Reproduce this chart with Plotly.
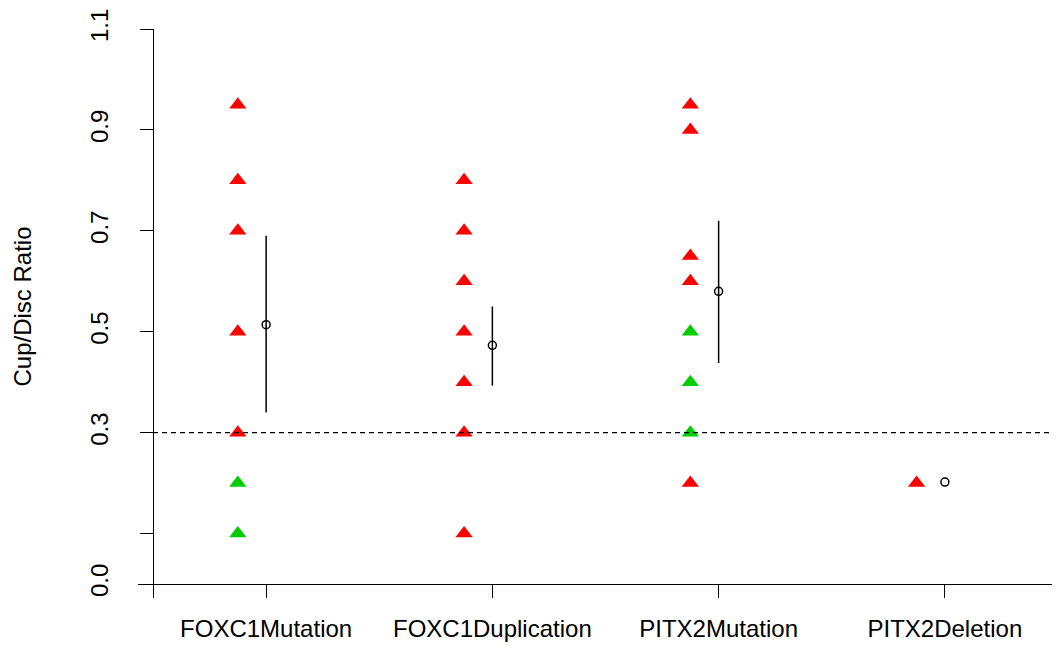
import plotly.graph_objects as go

categories = ["FOXC1Mutation", "FOXC1Duplication", "PITX2Mutation", "PITX2Deletion"]
cat_pos = [1, 2, 3, 4]

red_values = [
    [0.95, 0.8, 0.7, 0.5, 0.3],
    [0.8, 0.7, 0.6, 0.5, 0.4, 0.3, 0.1],
    [0.95, 0.9, 0.65, 0.6, 0.2],
    [0.2],
]
green_values = [
    [0.2, 0.1],
    [],
    [0.5, 0.4, 0.3],
    [],
]
means = [0.514, 0.473, 0.58, 0.202]
upper = [0.69, 0.55, 0.72, 0.202]
lower = [0.34, 0.393, 0.438, 0.202]

threshold = 0.3
y_ticks = [0.0, 0.1, 0.3, 0.5, 0.7, 0.9, 1.1]
y_ticktext = ["0.0", "", "0.3", "0.5", "0.7", "0.9", "1.1"]
offset = 0.125

FONT = "Liberation Sans, Arial, sans-serif"
FS = 24

fig = go.Figure()

rx, ry, gx, gy = [], [], [], []
for p, rv, gv in zip(cat_pos, red_values, green_values):
    rx += [p - offset] * len(rv)
    ry += rv
    gx += [p - offset] * len(gv)
    gy += gv

fig.add_trace(go.Scatter(x=rx, y=ry, mode="markers",
                         marker=dict(symbol="triangle-up", size=15, color="#FF0000",
                                     line=dict(width=0)), showlegend=False))
fig.add_trace(go.Scatter(x=gx, y=gy, mode="markers",
                         marker=dict(symbol="triangle-up", size=15, color="#00CD00",
                                     line=dict(width=0)), showlegend=False))

fig.add_trace(go.Scatter(
    x=cat_pos, y=means, mode="markers",
    marker=dict(symbol="circle-open", size=8, color="black", line=dict(width=1.5, color="black")),
    error_y=dict(type="data", symmetric=False,
                 array=[u - m for u, m in zip(upper, means)],
                 arrayminus=[m - l for m, l in zip(means, lower)],
                 width=0, thickness=1.5, color="black"),
    showlegend=False))

fig.add_shape(type="line", x0=0.5, x1=4.5, y0=threshold, y1=threshold,
              xref="x", yref="y", line=dict(color="black", width=1.3, dash="5px,4px"))

xr0 = 0.5 - 15 / 226.25
xr1 = xr0 + 922 / 226.25

fig.update_layout(
    width=1052, height=640,
    margin=dict(l=130, r=0, t=21, b=64),
    paper_bgcolor="white", plot_bgcolor="white",
    font=dict(family=FONT, size=FS, color="black"),
    xaxis=dict(range=[xr0, xr1], tickvals=[0.5] + cat_pos + [4.5],
               ticktext=[""] + categories + [""], automargin=False,
               showgrid=False, zeroline=False, showline=True, linecolor="black",
               linewidth=1.3, ticks="outside", ticklen=13, tickwidth=1.3,
               tickcolor="black", ticklabelstandoff=10,
               tickfont=dict(family=FONT, size=FS, color="black")),
    yaxis=dict(range=[0, 1.1], tickvals=y_ticks, ticktext=y_ticktext,
               anchor="free", position=15 / 922, automargin=False,
               showgrid=False, zeroline=False, showline=True, linecolor="black",
               linewidth=1.3, ticks="outside", ticklen=13, tickwidth=1.3,
               tickcolor="black", tickangle=-90, ticklabelstandoff=22,
               ticklabeloverflow="allow",
               tickfont=dict(family=FONT, size=FS, color="black")),
    annotations=[dict(text="Cup/Disc Ratio", xref="paper", yref="paper",
                      x=(22 - 138) / 922, y=0.5, textangle=-90,
                      showarrow=False, xanchor="center", yanchor="middle",
                      font=dict(family=FONT, size=FS, color="black"))],
)

fig.write_html("out.html")
